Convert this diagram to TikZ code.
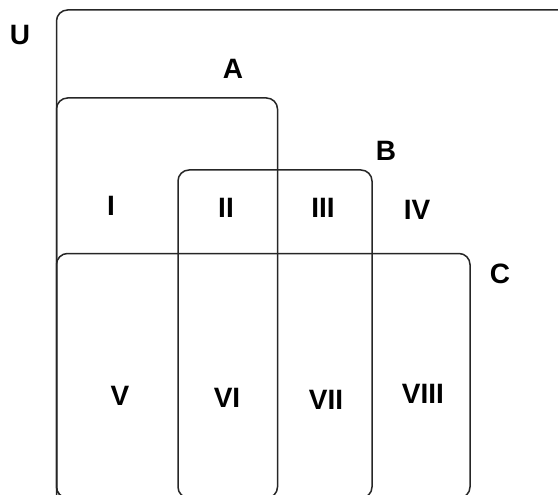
\documentclass[tikz,border=0pt]{standalone}
\usepackage{fontspec}
\setmainfont{Liberation Sans}
\begin{document}
\begin{tikzpicture}[x=1pt,y=-1pt,
  setbox/.style={draw=black!85,line width=1.5pt,rounded corners=11pt},
  lbl/.style={font=\fontsize{28}{28}\selectfont\bfseries,inner sep=0pt,anchor=center}]
\useasboundingbox (0,0) rectangle (558,495);
\clip (0,0) rectangle (558,495);
\draw[setbox] (56.5,10) rectangle (575,510);
\draw[setbox] (56.5,98) rectangle (277.5,498);
\draw[setbox] (178,170) rectangle (372,498);
\draw[setbox] (56.5,253.5) rectangle (470,498);
\node[lbl] (u) at (20,35) {U};
\node[lbl] (a) at (233,69) {A};
\node[lbl] (b) at (386,151) {B};
\node[lbl] (c) at (500,274) {C};
\node[lbl] (r1) at (111,206) {I};
\node[lbl] (r2) at (226,208) {II};
\node[lbl] (r3) at (323,208) {III};
\node[lbl] (r4) at (417,210) {IV};
\node[lbl] (r5) at (120,396) {V};
\node[lbl] (r6) at (227,398) {VI};
\node[lbl] (r7) at (326,400) {VII};
\node[lbl] (r8) at (423,394) {VIII};
\end{tikzpicture}
\end{document}
